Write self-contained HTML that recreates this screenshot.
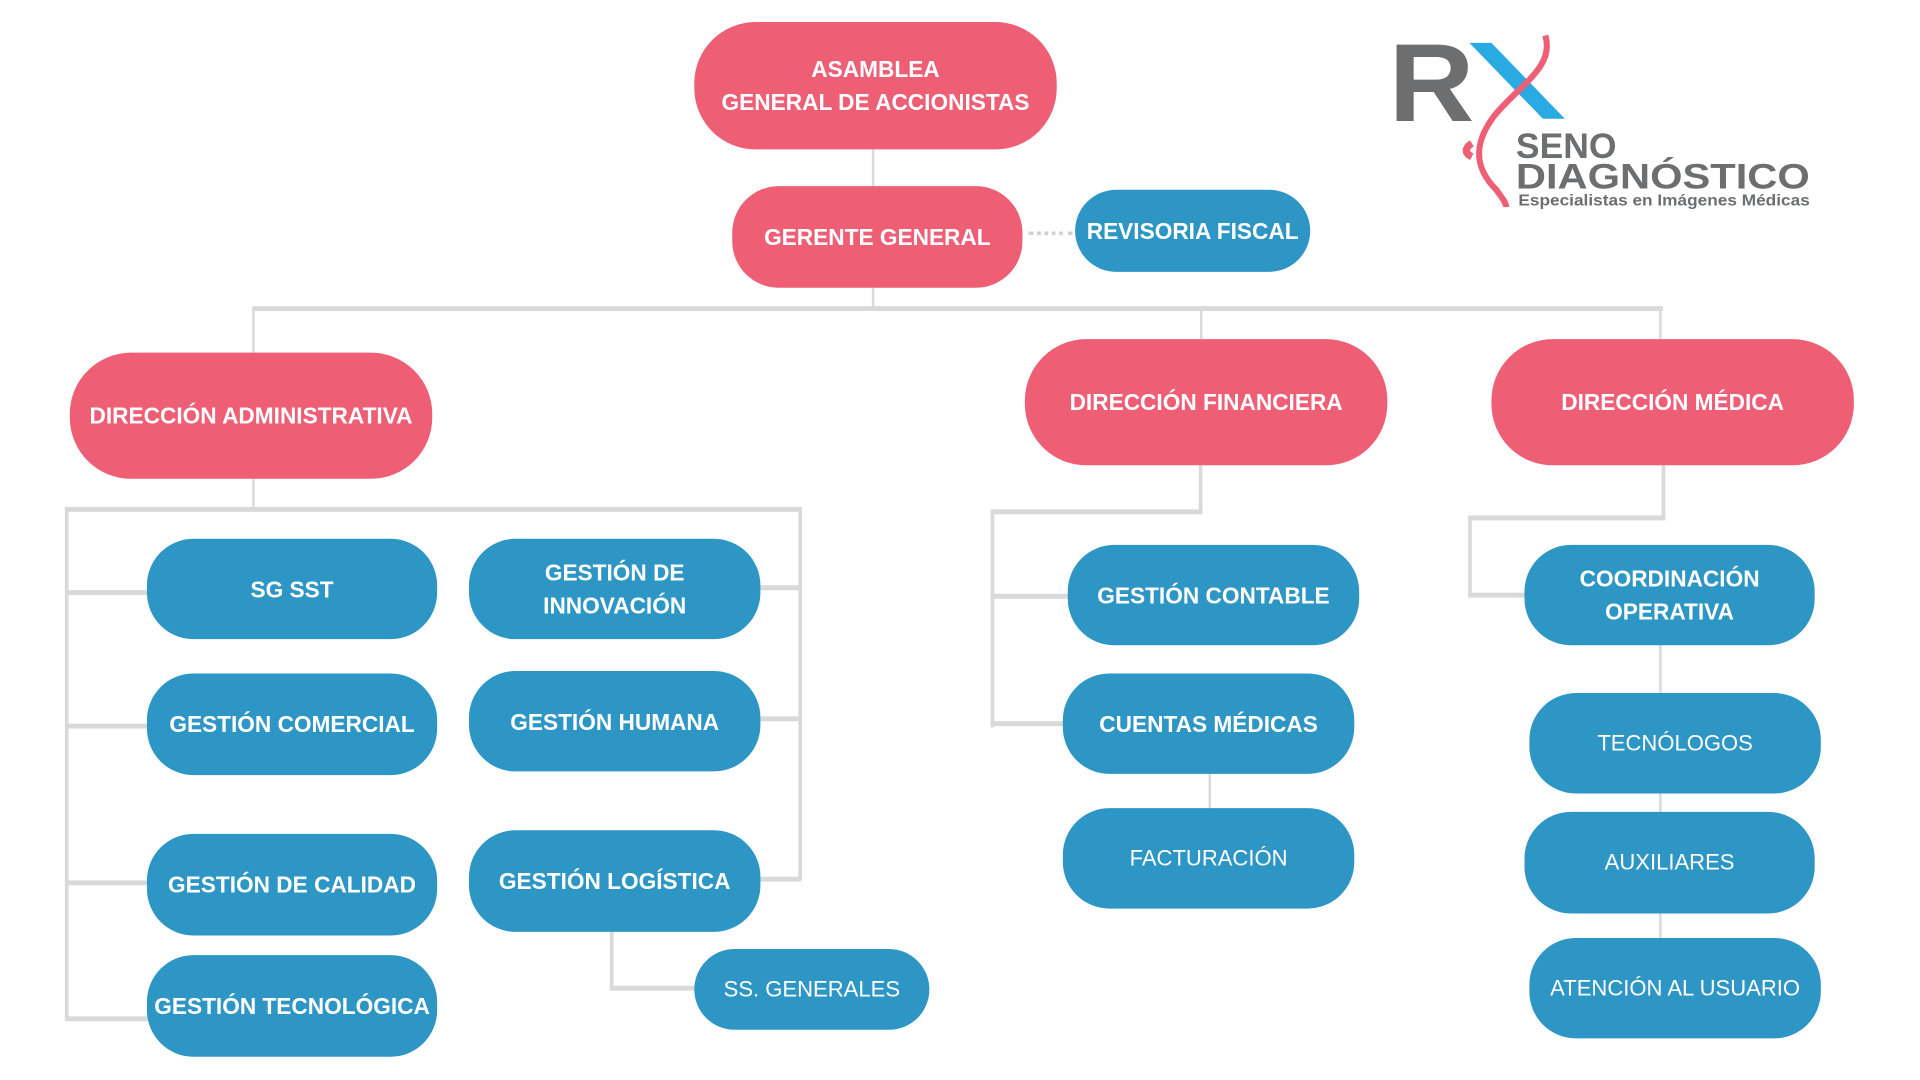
<!DOCTYPE html>
<html><head><meta charset="utf-8"><style>
html,body{margin:0;padding:0;background:#fff;width:1920px;height:1080px;overflow:hidden}
#c{position:absolute;left:0;top:0;width:1568px;height:882px;transform:scale(1.22449);transform-origin:0 0;font-family:"Liberation Sans",sans-serif}
.b{position:absolute;display:flex;align-items:center;justify-content:center;text-align:center;color:#fff;font-weight:bold;font-size:18.5px;line-height:27px;border-radius:38px;box-sizing:border-box}
.p{background:#EE5F76}
.u{background:#2E96C5}
.l{font-weight:normal;font-size:18px}
.h{position:absolute;background:#d9d9d9}
</style></head><body><div id="c">
<!-- connectors -->
<div class="h" style="left:712px;top:120px;width:2px;height:34px"></div>
<div class="h" style="left:712px;top:233px;width:2px;height:20px"></div>
<div class="h" style="left:206px;top:250px;width:1152px;height:4px"></div>
<div class="h" style="left:206px;top:252px;width:2px;height:38px"></div>
<div class="h" style="left:980px;top:252px;width:2px;height:27px"></div>
<div class="h" style="left:1355px;top:252px;width:2px;height:27px"></div>
<div style="position:absolute;left:840px;top:189px;width:36px;border-top:3px dotted #d0d0d0"></div>
<!-- admin -->
<div class="h" style="left:206px;top:389px;width:2px;height:27px"></div>
<div class="h" style="left:53px;top:414px;width:601px;height:4px"></div>
<div class="h" style="left:53px;top:414px;width:3px;height:420px"></div>
<div class="h" style="left:652px;top:414px;width:3px;height:305px"></div>
<div class="h" style="left:53px;top:482px;width:70px;height:4px"></div>
<div class="h" style="left:53px;top:591px;width:70px;height:4px"></div>
<div class="h" style="left:53px;top:719px;width:70px;height:4px"></div>
<div class="h" style="left:53px;top:830px;width:70px;height:4px"></div>
<div class="h" style="left:618px;top:478px;width:36px;height:4px"></div>
<div class="h" style="left:618px;top:585px;width:36px;height:4px"></div>
<div class="h" style="left:618px;top:716px;width:36px;height:4px"></div>
<div class="h" style="left:498px;top:759px;width:3px;height:50px"></div>
<div class="h" style="left:498px;top:805px;width:72px;height:4px"></div>
<!-- fin -->
<div class="h" style="left:979px;top:378px;width:3px;height:41px"></div>
<div class="h" style="left:809px;top:416px;width:173px;height:4px"></div>
<div class="h" style="left:809px;top:416px;width:3px;height:178px"></div>
<div class="h" style="left:809px;top:485px;width:65px;height:4px"></div>
<div class="h" style="left:809px;top:589px;width:62px;height:4px"></div>
<div class="h" style="left:987px;top:630px;width:2px;height:32px"></div>
<!-- med -->
<div class="h" style="left:1357px;top:378px;width:3px;height:45px"></div>
<div class="h" style="left:1199px;top:421px;width:161px;height:4px"></div>
<div class="h" style="left:1199px;top:421px;width:3px;height:67px"></div>
<div class="h" style="left:1199px;top:484px;width:48px;height:4px"></div>
<div class="h" style="left:1355px;top:525px;width:2px;height:245px"></div>
<!-- boxes -->
<div class="b p" style="left:567px;top:18px;width:296px;height:104px;border-radius:50px">ASAMBLEA<br>GENERAL DE ACCIONISTAS</div>
<div class="b p" style="left:598px;top:152px;width:237px;height:83px">GERENTE GENERAL</div>
<div class="b u" style="left:878px;top:155px;width:192px;height:67px;border-radius:34px">REVISORIA FISCAL</div>
<div class="b p" style="left:57px;top:288px;width:296px;height:103px;border-radius:50px">DIRECCIÓN ADMINISTRATIVA</div>
<div class="b p" style="left:837px;top:277px;width:296px;height:103px;border-radius:50px">DIRECCIÓN FINANCIERA</div>
<div class="b p" style="left:1218px;top:277px;width:296px;height:103px;border-radius:50px">DIRECCIÓN MÉDICA</div>
<div class="b u" style="left:120px;top:440px;width:237px;height:82px">SG SST</div>
<div class="b u" style="left:383px;top:440px;width:238px;height:82px">GESTIÓN DE<br>INNOVACIÓN</div>
<div class="b u" style="left:120px;top:550px;width:237px;height:83px">GESTIÓN COMERCIAL</div>
<div class="b u" style="left:383px;top:548px;width:238px;height:82px">GESTIÓN HUMANA</div>
<div class="b u" style="left:120px;top:681px;width:237px;height:83px">GESTIÓN DE CALIDAD</div>
<div class="b u" style="left:383px;top:678px;width:238px;height:83px">GESTIÓN LOGÍSTICA</div>
<div class="b u" style="left:120px;top:780px;width:237px;height:83px;white-space:nowrap">GESTIÓN TECNOLÓGICA</div>
<div class="b u l" style="left:567px;top:775px;width:192px;height:66px;border-radius:33px">SS. GENERALES</div>
<div class="b u" style="left:872px;top:445px;width:238px;height:82px">GESTIÓN CONTABLE</div>
<div class="b u" style="left:868px;top:550px;width:238px;height:82px">CUENTAS MÉDICAS</div>
<div class="b u l" style="left:868px;top:660px;width:238px;height:82px">FACTURACIÓN</div>
<div class="b u" style="left:1245px;top:445px;width:237px;height:82px">COORDINACIÓN<br>OPERATIVA</div>
<div class="b u l" style="left:1249px;top:566px;width:238px;height:82px">TECNÓLOGOS</div>
<div class="b u l" style="left:1245px;top:663px;width:237px;height:83px">AUXILIARES</div>
<div class="b u l" style="left:1249px;top:766px;width:238px;height:82px">ATENCIÓN AL USUARIO</div>
<!-- logo -->
<svg style="position:absolute;left:1130px;top:25px" width="360" height="150" viewBox="0 0 360 150">
<text x="4" y="74" font-family="Liberation Sans" font-weight="bold" font-size="90" fill="#6d6e70" textLength="70" lengthAdjust="spacingAndGlyphs">R</text>
<polygon points="70,10 88,10 148,72 130,72" fill="#2aaae2"/>
<path d="M132,4 C140,30 110,45 90,70 C75,90 72,110 92,130 C96,136 100,140 100,144" stroke="#EE5F76" stroke-width="5" fill="none"/>
<path d="M72,92 C66,96 66,100 72,103" stroke="#EE5F76" stroke-width="6" fill="none"/>
<text x="108" y="104" font-family="Liberation Sans" font-weight="bold" font-size="29" fill="#6d6e70">SENO</text>
<text x="108" y="129" font-family="Liberation Sans" font-weight="bold" font-size="29" fill="#6d6e70" textLength="240" lengthAdjust="spacingAndGlyphs">DIAGNÓSTICO</text>
<text x="110" y="143" font-family="Liberation Sans" font-weight="bold" font-size="12.5" fill="#6d6e70" textLength="238" lengthAdjust="spacingAndGlyphs">Especialistas en Imágenes Médicas</text>
</svg>
</div></body></html>
